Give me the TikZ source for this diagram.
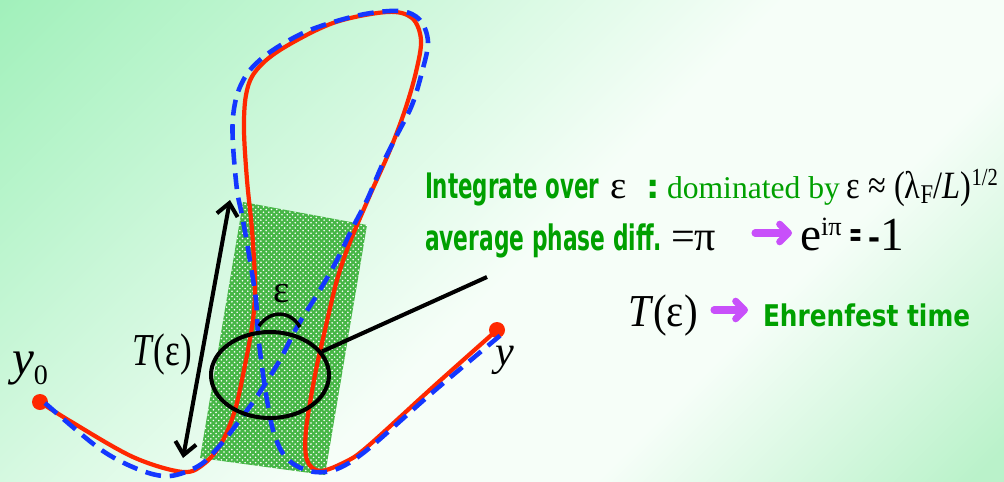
\documentclass[tikz,border=0pt]{standalone}
\usepackage{fontspec}
\usepackage{graphicx}
\setmainfont{Liberation Serif}
\newfontfamily\sansb{DejaVu Sans}
\usetikzlibrary{arrows.meta,patterns,shapes.geometric}
\definecolor{tgreen}{RGB}{0,160,0}
\definecolor{tred}{RGB}{255,40,0}
\definecolor{tblue}{RGB}{20,55,255}
\definecolor{tpurple}{RGB}{200,80,250}
\definecolor{bgTL}{RGB}{160,240,186}
\definecolor{bgBR}{RGB}{186,242,202}
\definecolor{bgMid}{RGB}{246,254,248}
\definecolor{hatchg}{RGB}{70,182,70}
\pgfdeclareverticalshading{bgshade}{100bp}{color(0bp)=(bgBR); color(16bp)=(bgBR); color(34bp)=(bgMid); color(48bp)=(bgMid); color(86bp)=(bgTL); color(100bp)=(bgTL)}
\newlength\pxu \setlength\pxu{0.5669pt}
\newcommand\fitw[2]{\resizebox{#1\pxu}{\height}{#2}}
\newcommand\fs[1]{\fontsize{#1}{#1}\selectfont}
\newcommand\gsans[1]{{\sansb\bfseries\color{tgreen}#1}}
\tikzset{
  redline/.style={draw=tred, line width=2.4pt, line join=round},
  blueline/.style={draw=tblue, line width=2.6pt, dash pattern=on 9pt off 5pt},
  blackline/.style={draw=black, line width=2.3pt},
  parrow/.style={draw=tpurple, line width=4pt, line cap=round, -{Straight Barb[length=5pt,width=10pt,round]}},
  txt/.style={inner sep=0pt, outer sep=0pt},
  dot/.style={circle, fill=tred, inner sep=0pt, minimum size=0.32cm}
}
\begin{document}
\begin{tikzpicture}[x=0.02cm, y=-0.02cm]
\shade[shading=bgshade, shading angle=45] (0,0) rectangle (1004,481);
\useasboundingbox (0,0) rectangle (1004,481);
% hatched band
\fill[hatchg] (243,202) -- (367,225) -- (325,475) -- (200,458) -- cycle;
\fill[pattern=crosshatch dots, pattern color=white] (243,202) -- (367,225) -- (325,475) -- (200,458) -- cycle;
% double arrow
\coordinate (Tbot) at (183,458);
\coordinate (Ttop) at (230,200);
\draw[blackline, {Straight Barb[length=7pt,width=12pt]}-{Straight Barb[length=7pt,width=12pt]}] (Tbot) -- (Ttop);
% end points
\node[dot] (y0dot) at (40,402) {};
\node[dot] (ydot) at (497,330) {};
% red trajectory
\draw[redline] plot[smooth, tension=0.55] coordinates {(40,402) (70,421) (133,457) (183,472) (205,463) (222,442) (235,410) (245,365) (253,320) (255,283) (252,230) (247,180) (244,130) (246,95) (255,72) (280,50) (333,23) (387,12) (412,18) (421,40) (416,72) (405,110) (390,150) (370,195) (350,242) (337,280) (325,330) (315,375) (306,430) (307,460) (320,471) (345,462) (367,447) (433,387) (497,330)};
% blue trajectory
\draw[blueline] plot[smooth, tension=0.55] coordinates {(45,403) (100,449) (140,470) (170,476) (200,465) (222,443) (242,417) (258,395) (280,360) (297,327) (320,290) (337,260) (353,227) (367,200) (383,163) (397,135) (412,105) (422,72) (428,42) (420,20) (400,11) (360,15) (310,30) (273,50) (250,70) (238,92) (233,117) (233,145) (237,190) (242,215) (247,243) (252,273) (256,300) (258,333) (262,367) (267,400) (273,430) (282,452) (295,465) (315,472) (337,469) (367,450) (433,392) (502,334)};
% ellipse and pointer
\node[ellipse, draw, line width=2.3pt, minimum width=2.36cm, minimum height=1.72cm, inner sep=0pt] (ell) at (270,375) {};
\coordinate (ptr) at (487,277);
\draw[blackline] (ell) -- (ptr);
% epsilon arc
\coordinate (arcL) at (259,326);
\coordinate (arcR) at (300,327);
\draw[draw=black, line width=2pt] (arcL) .. controls (270,310) and (290,310) .. (arcR);
\node[txt] (epsA) at (282,294) {\fs{22}ε};
% left labels
\node[txt, anchor=base west] (Tlab) at (132,365) {\fitw{60}{\fs{26}\textit{T}(ε)}};
\node[txt, anchor=base west] (y0lab) at (12,374) {\fs{28}\textit{y}\raisebox{-6pt}{\fs{16}0}};
\node[txt, anchor=base west] (ylab) at (495,365) {\fs{24}\textit{y}};
% line 1
\node[txt, anchor=base west] (L1a) at (425,198) {\fitw{175}{\gsans{\fs{20}Integrate over}}};
\node[txt, anchor=base west] (L1b) at (610,198) {\fs{22}ε};
\node[txt, anchor=base west] (L1c) at (646,198) {\gsans{\fs{19}:}};
\node[txt, anchor=base west] (L1d) at (667,198) {\fs{18}\color{tgreen}dominated by};
\node[txt, anchor=base east] (L1e) at (998,198) {\fitw{152}{\fs{22}ε ≈ (λ\textsubscript{F}/\textit{L})\raisebox{7pt}{\fs{14}1/2}}};
% line 2
\node[txt, anchor=base west] (L2a) at (425,250) {\fitw{238}{\gsans{\fs{20}average phase diff.}}};
\node[txt, anchor=base west] (L2b) at (671,250) {\fs{24}=π};
\coordinate (a1s) at (755,233);
\coordinate (a1e) at (792,233);
\draw[parrow] (a1s) -- (a1e);
\node[txt, anchor=base west] (L2c) at (800,250) {\fs{27}e\raisebox{8pt}{\fs{15}iπ}};
\node[txt, anchor=base west] (L2d) at (849,250) {\raisebox{2pt}{\fitw{13}{\sansb\bfseries\fs{20}=}}\hspace{6\pxu}\raisebox{1pt}{\sansb\bfseries\fs{17}-}{\fs{27}1}};
% line 3
\node[txt, anchor=base west] (L3a) at (628,326) {\fitw{70}{\fs{26}\textit{T}(ε)}};
\coordinate (a2s) at (714,310);
\coordinate (a2e) at (748,310);
\draw[parrow] (a2s) -- (a2e);
\node[txt, anchor=base west] (L3b) at (763,326) {\fitw{208}{\gsans{\fs{17}Ehrenfest time}}};
\end{tikzpicture}
\end{document}
